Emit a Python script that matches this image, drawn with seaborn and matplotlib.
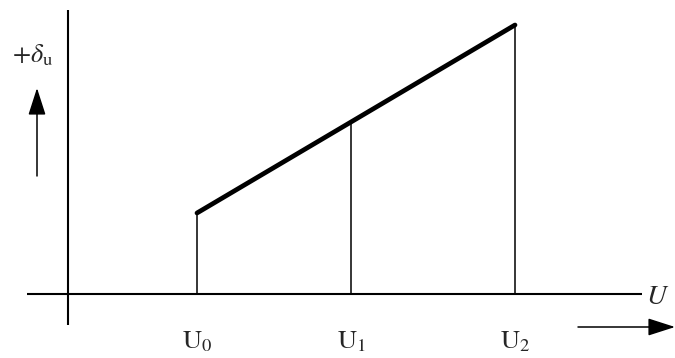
import matplotlib
matplotlib.use("Agg")
import matplotlib.pyplot as plt
import seaborn as sns
import pandas as pd

# Data (units: offsets from the origin of the diagram)
u_labels = [r"$\mathrm{U}_0$", r"$\mathrm{U}_1$", r"$\mathrm{U}_2$"]
u_values = [129, 283, 447]
delta_values = [81, 172, 269]

sns.set_theme(style="white")
plt.rcParams["font.family"] = ["Liberation Serif", "DejaVu Serif"]
plt.rcParams["mathtext.fontset"] = "stix"

fig = plt.figure(figsize=(6.75, 3.58), dpi=100)
ax = fig.add_axes([0, 0, 1, 1])
ax.set_xlim(-68, 675 - 68)
ax.set_ylim(-(358 - 294), 294)
ax.axis("off")

df = pd.DataFrame({"U": u_values, "delta": delta_values})

# axes of the diagram
ax.plot([-41, 574], [0, 0], color="black", lw=1.5, solid_capstyle="butt")
ax.plot([0, 0], [-31, 284], color="black", lw=1.5, solid_capstyle="butt")

# thin verticals
ax.vlines(df["U"], 0, df["delta"], colors="black", lw=1.1)

# thick line
sns.lineplot(data=df, x="U", y="delta", color="black", lw=3.4, ax=ax,
             legend=False, sort=True)

# labels under the U values
for u, lab in zip(u_values, u_labels):
    ax.text(u, -48, lab, ha="center", va="center", fontsize=19)

ax.text(590, -3, r"$U$", ha="center", va="center", fontsize=20)
ax.text(-35, 239, r"$+\delta_{\mathrm{u}}$", ha="center", va="center", fontsize=19)

# direction arrows
ax.annotate("", xy=(-31, 206), xytext=(-31, 118),
            arrowprops=dict(arrowstyle="-|>,head_length=1.4,head_width=0.45",
                            color="black", lw=1.1, shrinkA=0, shrinkB=0))
ax.annotate("", xy=(607, -33), xytext=(510, -33),
            arrowprops=dict(arrowstyle="-|>,head_length=1.4,head_width=0.45",
                            color="black", lw=1.1, shrinkA=0, shrinkB=0))

fig.savefig("out.png", dpi=100, facecolor="white")
